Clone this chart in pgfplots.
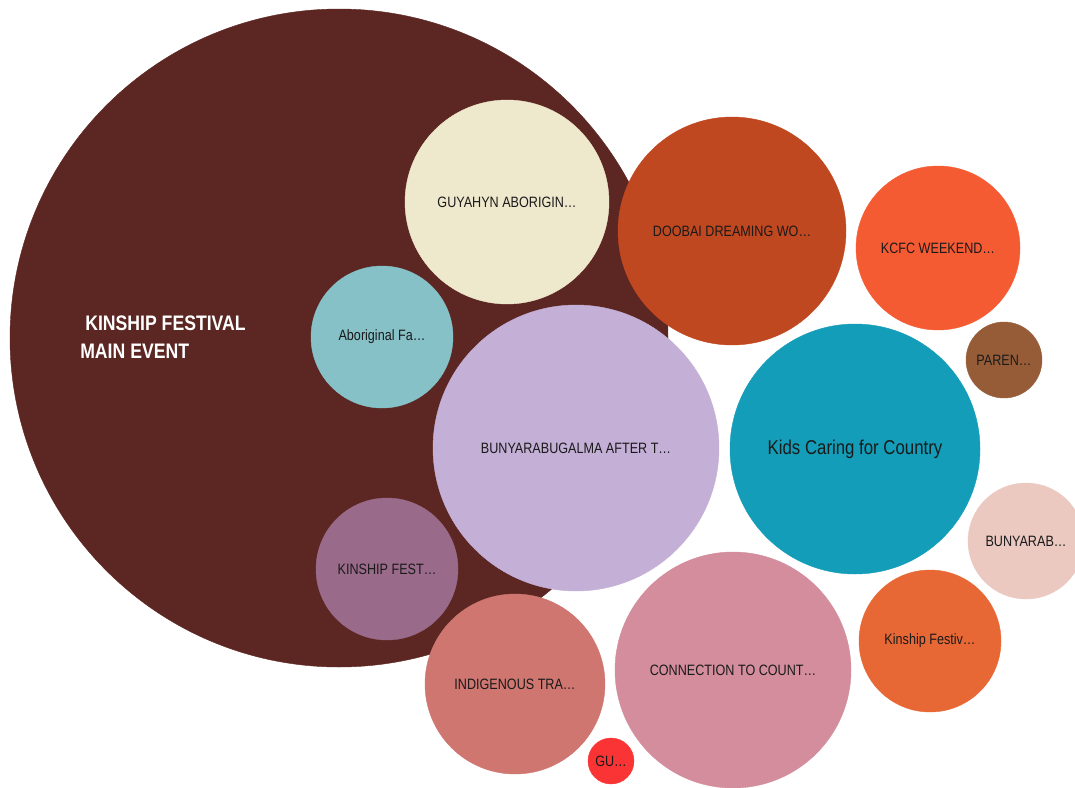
\documentclass[border=0pt]{standalone}
\usepackage{pgfplots}
\pgfplotsset{compat=1.18}
\usepackage{fontspec}
\setmainfont[FakeStretch=0.84]{Liberation Sans}
\definecolor{c1}{HTML}{5C2622}
\definecolor{c2}{HTML}{EEE8CC}
\definecolor{c3}{HTML}{86C1C8}
\definecolor{c4}{HTML}{C4AFD6}
\definecolor{c5}{HTML}{996A89}
\definecolor{c6}{HTML}{CF7670}
\definecolor{c7}{HTML}{FA3434}
\definecolor{c8}{HTML}{D38D9C}
\definecolor{c9}{HTML}{C04820}
\definecolor{c10}{HTML}{F55B33}
\definecolor{c11}{HTML}{955C37}
\definecolor{c12}{HTML}{139DB8}
\definecolor{c13}{HTML}{EBC9C1}
\definecolor{c14}{HTML}{E86835}
\definecolor{txt}{HTML}{1A1A1A}
\newcommand{\bub}[6]{\addplot[only marks, mark=*, mark size=#3, color=#4,
  nodes near coords={#5},
  every node near coord/.style={anchor=center, text=txt, font=\fontsize{#6}{#6}\selectfont}]
  coordinates {(#1,#2)};}
\begin{document}
\begin{tikzpicture}
\begin{axis}[width=1075pt, height=787pt, scale only axis, hide axis,
  xmin=0, xmax=1075, ymin=0, ymax=787, y dir=reverse,
  clip marker paths=true, clip bounding box=upper bound]
\path (rel axis cs:0,0) rectangle (rel axis cs:1,1);
\addplot[only marks, mark=*, mark size=329, color=c1,
  nodes near coords={\hspace{5pt}KINSHIP FESTIVAL\\MAIN EVENT},
  every node near coord/.style={anchor=center, align=left, text=white, font=\fontsize{21}{28}\selectfont\bfseries, xshift=-176pt, yshift=1pt}]
  coordinates {(339,338)};
\bub{507}{202}{102}{c2}{GUYAHYN ABORIGIN…}{15}
\bub{382}{337}{71}{c3}{Aboriginal Fa…}{15}
\bub{576}{448}{143}{c4}{BUNYARABUGALMA AFTER T…}{15}
\bub{387}{569}{71}{c5}{KINSHIP FEST…}{15}
\bub{515}{684}{90}{c6}{INDIGENOUS TRA…}{15}
\bub{611}{761}{23}{c7}{GU…}{15}
\bub{733}{670}{118}{c8}{CONNECTION TO COUNT…}{15}
\bub{732}{231}{114}{c9}{DOOBAI DREAMING WO…}{15}
\bub{938}{248}{82}{c10}{KCFC WEEKEND…}{15}
\bub{1004}{360}{38}{c11}{PAREN…}{15}
\bub{855}{449}{125}{c12}{Kids Caring for Country}{20}
\bub{1026}{541}{58}{c13}{BUNYARAB…}{15}
\bub{930}{641}{71}{c14}{Kinship Festiv…}{15}
\end{axis}
\end{tikzpicture}
\end{document}
